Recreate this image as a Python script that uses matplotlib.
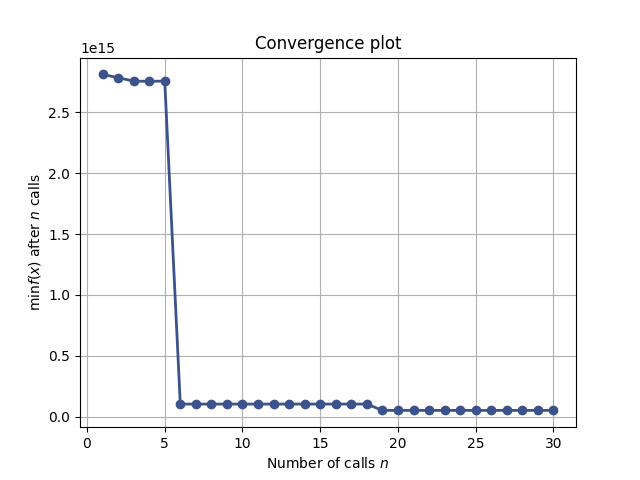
import matplotlib
matplotlib.use("Agg")
import matplotlib.pyplot as plt
from matplotlib import cm

n_calls = list(range(1, 31))
min_vals = [2.812e15, 2.785e15, 2.757e15, 2.755e15, 2.757e15] + [1.04e14] * 13 + [5.2e13] * 12

fig, ax = plt.subplots(figsize=(6.4, 4.8), dpi=100)
ax.set_title("Convergence plot")
ax.set_xlabel("Number of calls $n$")
ax.set_ylabel(r"$\min f(x)$ after $n$ calls")
ax.grid()
ax.plot(n_calls, min_vals, c=cm.viridis(0.25), marker=".", markersize=12, lw=2)

plt.savefig("out.png", dpi=100)
